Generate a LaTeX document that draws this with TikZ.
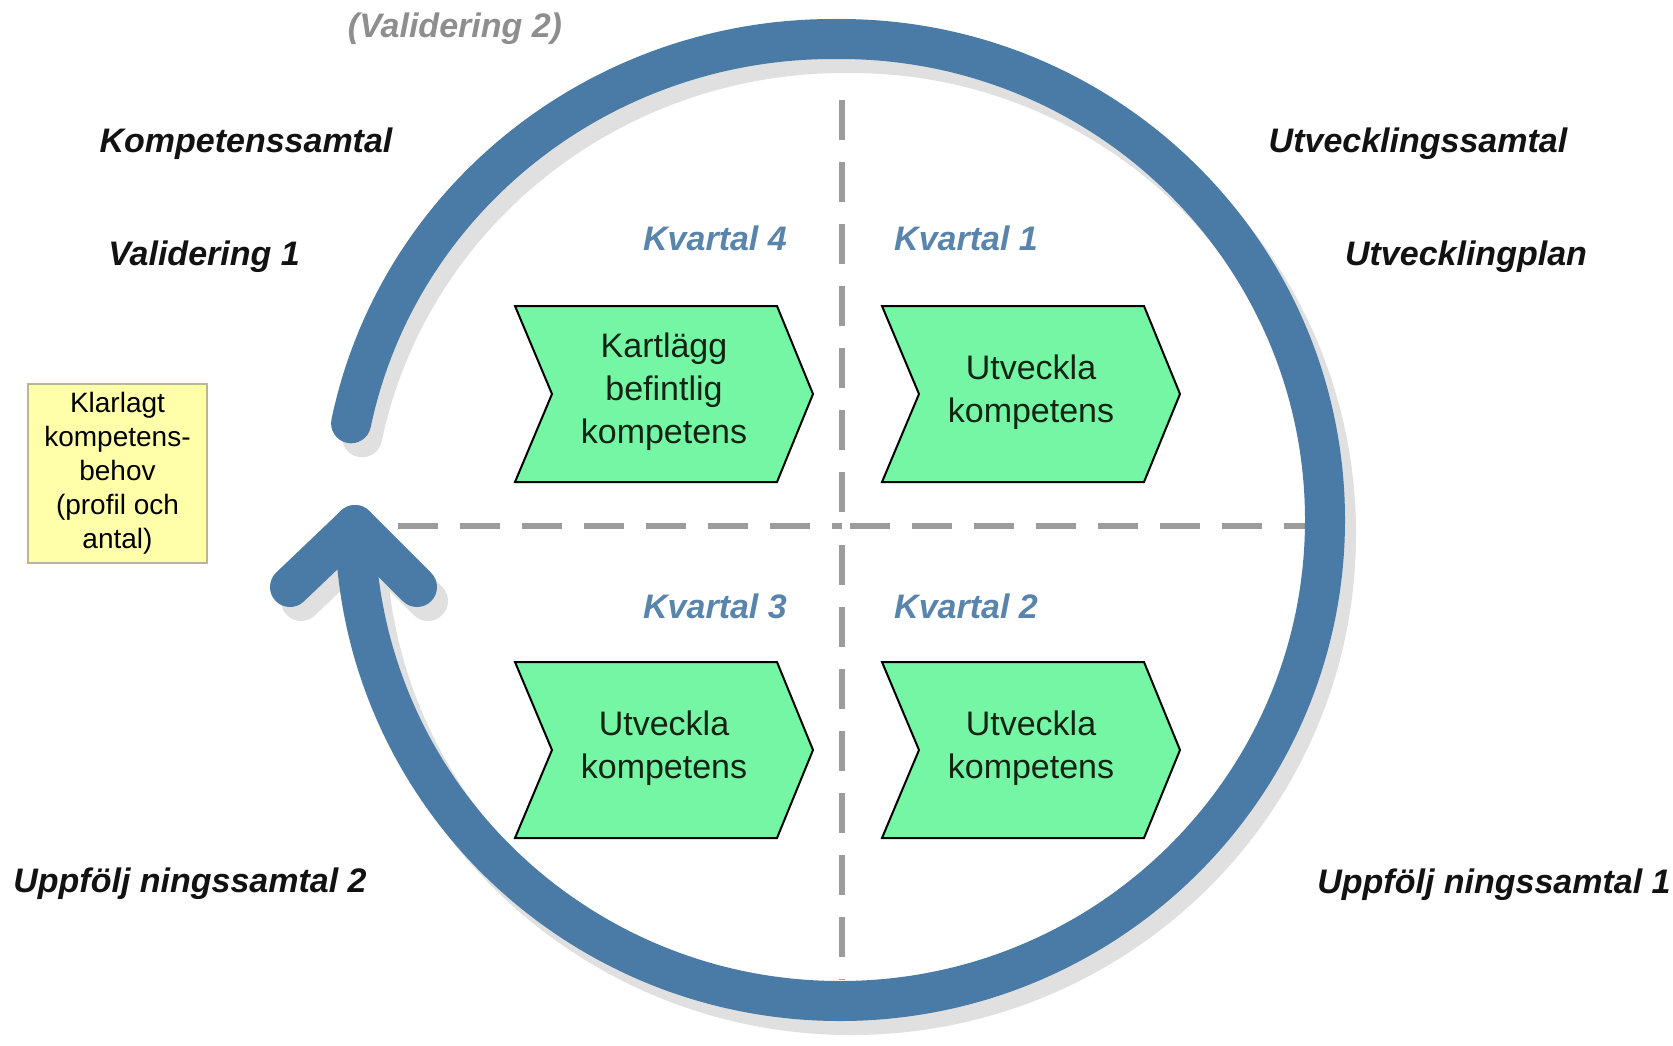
\documentclass[tikz,border=0pt]{standalone}
\usepackage{fontspec}
\setmainfont{Liberation Sans}
\definecolor{bandblue}{HTML}{4A7BA6}
\definecolor{shadowgray}{HTML}{E0E0E0}
\definecolor{dashgray}{HTML}{9C9C9C}
\definecolor{chevgreen}{HTML}{74F6A4}
\definecolor{kvblue}{HTML}{5985AD}
\definecolor{noteyellow}{HTML}{FFFFAA}
\definecolor{noteborder}{HTML}{B8B890}
\definecolor{valgray}{HTML}{8E8E8E}
\definecolor{chevtextcol}{HTML}{142414}
\begin{document}
\begin{tikzpicture}[x=1pt,y=-1pt,
  band/.style={line width=40pt, draw=bandblue, line cap=round, line join=round},
  bandshadow/.style={line width=40pt, draw=shadowgray, line cap=round, line join=round},
  gridline/.style={draw=dashgray, line width=6pt, dash pattern=on 40pt off 22pt},
  chev/.style={draw=black, line width=2pt, fill=chevgreen, line join=miter},
  chevtext/.style={align=center, text=chevtextcol, inner sep=0pt,
    font=\fontsize{34pt}{43pt}\selectfont},
  boldlab/.style={font=\fontsize{34pt}{40pt}\selectfont\bfseries\itshape,
    inner sep=0pt, text=black!93},
  kv/.style={boldlab, text=kvblue},
]
\useasboundingbox (0,0) rectangle (1673,1045);
\fill[white] (0,0) rectangle (1673,1045);

\coordinate (CL) at (833,520);
\coordinate (C) at (840,520);

% shadow of the cycle arrow (offset copy)
\begin{scope}[shift={(11,14)}]
  \draw[bandshadow] (833,520) ++(-168.4:492 and 481)
    arc[start angle=-168.4, end angle=-90, x radius=492, y radius=481]
    -- ++(7,0)
    arc[start angle=-90, end angle=179.4, x radius=485, y radius=481];
  \draw[bandshadow] (290,587) -- (355,525) -- (417,587);
\end{scope}

% dashed quadrant lines
\draw[gridline] (842,100) -- (842,526) -- (1306,526);
\draw[gridline] (398,526) -- (842,526);
\draw[gridline] (842,545) -- (842,980);

% chevrons
\foreach \x/\y in {515/306, 882/306, 515/662, 882/662}{
  \draw[chev] (\x,\y) -- ++(262,0) -- ++(36,88) -- ++(-36,88) -- ++(-262,0)
    -- ++(37,-88) -- cycle;
}
\node[chevtext] (q4) at (664,392) {Kartlägg\\befintlig\\kompetens};
\node[chevtext] (q1) at (1031,392) {Utveckla\\kompetens};
\node[chevtext] (q3) at (664,748) {Utveckla\\kompetens};
\node[chevtext] (q2) at (1031,748) {Utveckla\\kompetens};

% cycle arrow
\draw[band] (CL) ++(-168.4:492 and 481)
  arc[start angle=-168.4, end angle=-90, x radius=492, y radius=481]
  -- ++(7,0)
  arc[start angle=-90, end angle=179.4, x radius=485, y radius=481];
\draw[band] (290,587) -- (355,525) -- (417,587);

% quarter labels
\node[kv, anchor=base east] (k4) at (787,250) {Kvartal 4};
\node[kv, anchor=base west] (k1) at (894,250) {Kvartal 1};
\node[kv, anchor=base east] (k3) at (787,618) {Kvartal 3};
\node[kv, anchor=base west] (k2) at (894,618) {Kvartal 2};

% outer labels
\node[boldlab, anchor=base, text=valgray] (val2) at (455,37) {(Validering 2)};
\node[boldlab, anchor=base] (komp) at (246,152) {Kompetenssamtal};
\node[boldlab, anchor=base] (val1) at (204,265) {Validering 1};
\node[boldlab, anchor=base] (utvs) at (1418,152) {Utvecklingssamtal};
\node[boldlab, anchor=base] (utvp) at (1466,265) {Utvecklingplan};
\node[boldlab, anchor=base] (upp2) at (190,892) {Uppfölj ningssamtal 2};
\node[boldlab, anchor=base] (upp1) at (1494,893) {Uppfölj ningssamtal 1};

% yellow note
\node[draw=noteborder, fill=noteyellow, line width=2pt, minimum width=179pt,
  minimum height=179pt, inner sep=0pt, align=center,
  font=\fontsize{28pt}{34pt}\selectfont] (need) at (117.5,473.5)
  {Klarlagt\\kompetens-\\behov\\(profil och\\antal)};
\end{tikzpicture}
\end{document}
